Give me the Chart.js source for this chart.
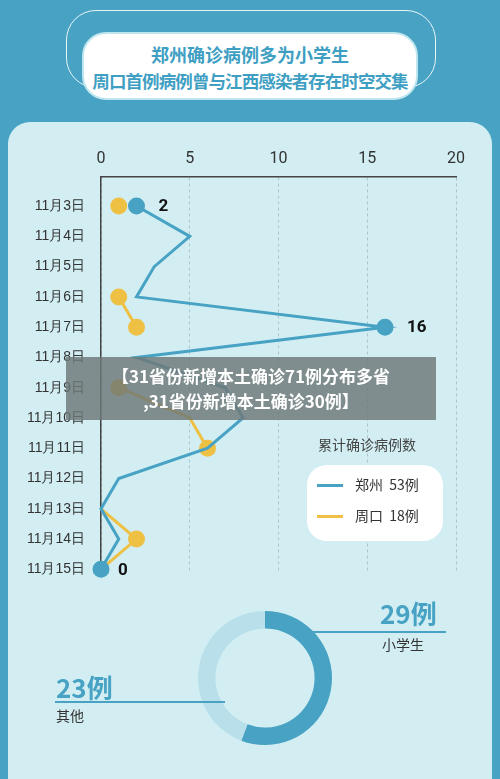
<!DOCTYPE html><html><head><meta charset="utf-8">
<script src="https://cdn.jsdelivr.net/npm/chart.js@4"></script>
<style>
body{margin:0;width:500px;height:779px;background:#47a2c3;position:relative;overflow:hidden;font-family:"Noto Sans CJK SC",sans-serif}
.abs{position:absolute}
</style></head><body>
<div class="abs" style="left:66px;top:10px;width:368px;height:76px;border:1.5px solid #e8f6fa;border-radius:30px"></div>
<div class="abs" style="left:82px;top:32px;width:336px;height:68px;background:#fff;border-radius:24px;border:2px solid #bfe6ef;text-align:center;color:#3f9fc3;font-weight:bold;font-size:18px;line-height:26px;padding-top:7px;box-sizing:border-box;white-space:nowrap">郑州确诊病例多为小学生<br><span style="font-size:17.5px;letter-spacing:-0.9px">周口首例病例曾与江西感染者存在时空交集</span></div>
<div class="abs" style="left:8px;top:122px;width:484px;height:680px;background:#d2eef3;border-radius:22px"></div>
<canvas id="c1" class="abs" width="480" height="450" style="left:0;top:140px;width:480px;height:450px"></canvas>
<div class="abs" style="left:318px;top:434px;font-size:14px;color:#444">累计确诊病例数</div>
<div class="abs" style="left:307px;top:465px;width:136px;height:76px;background:#fff;border-radius:20px;font-size:14px;color:#333">
<div class="abs" style="left:10px;top:19px;width:26px;height:3px;background:#47a2c3"></div><div class="abs" style="left:48px;top:9px">郑州&nbsp; 53例</div>
<div class="abs" style="left:10px;top:50px;width:26px;height:3px;background:#eec043"></div><div class="abs" style="left:48px;top:40px">周口&nbsp; 18例</div>
</div>
<canvas id="c2" class="abs" width="134" height="134" style="left:198px;top:611px;width:134px;height:134px"></canvas>
<div class="abs" style="left:290px;top:631px;width:156px;height:1.5px;background:#47a2c3"></div>
<div class="abs" style="left:380px;top:594px;font-size:26px;font-weight:bold;color:#47a2c3">29例</div>
<div class="abs" style="left:382px;top:634px;font-size:14px;color:#333">小学生</div>
<div class="abs" style="left:55px;top:701px;width:170px;height:1.5px;background:#47a2c3"></div>
<div class="abs" style="left:56px;top:668px;font-size:26px;font-weight:bold;color:#47a2c3">23例</div>
<div class="abs" style="left:56px;top:705px;font-size:14px;color:#333">其他</div>
<div class="abs" style="left:66px;top:357px;width:370px;height:63px;background:rgba(110,120,120,0.82);color:#fff;font-weight:bold;font-size:17px;line-height:25px;text-align:center;padding-top:6px;box-sizing:border-box">【31省份新增本土确诊71例分布多省<br>,31省份新增本土确诊30例】</div>
<script>
const categories=["11月3日","11月4日","11月5日","11月6日","11月7日","11月8日","11月9日","11月10日","11月11日","11月12日","11月13日","11月14日","11月15日"];
const zhengzhou=[2,5,3,2,16,2,7,8,6,1,0,1,0];
const zhoukou=[1,null,null,1,2,null,1,5,6,null,0,2,0];
const zzPoints=[1,0,0,0,1,0,0,0,0,0,0,0,1];
const zkPoints=[1,0,0,1,1,0,1,0,1,0,0,1,0];
const xTicks=[0,5,10,15,20];
const donutLabels=["小学生","其他"];
const donutValues=[29,23];
const labelIdx=[0,4,12];
const BLUE="#47a2c3",YEL="#eec043";
const toXY=a=>a.map((v,i)=>({x:v,y:i}));
const lbl={id:"lbl",afterDatasetsDraw(ch){const m=ch.getDatasetMeta(0),c=ch.ctx;c.save();c.font="bold 17px Roboto";c.fillStyle="#111";c.textBaseline="middle";
labelIdx.forEach(i=>{const p=m.data[i];c.fillText(String(zhengzhou[i]),p.x+(zhengzhou[i]===0?17:22),p.y+1);});c.restore();}};
new Chart(document.getElementById("c1"),{type:"line",
data:{datasets:[
{data:toXY(zhengzhou),borderColor:BLUE,backgroundColor:BLUE,borderWidth:3,pointRadius:zzPoints.map(v=>v?7:0),order:1,clip:false},
{data:toXY(zhoukou),borderColor:YEL,backgroundColor:YEL,borderWidth:3,pointRadius:zkPoints.map(v=>v?7:0),spanGaps:false,order:2,clip:false}]},
options:{indexAxis:"y",responsive:false,animation:false,events:[],devicePixelRatio:1,
layout:{padding:{right:24,bottom:10}},
plugins:{legend:{display:false},tooltip:{enabled:false}},
scales:{x:{type:"linear",position:"top",min:0,max:20,afterFit:s=>{s.height=37},afterBuildTicks:s=>{s.ticks=xTicks.map(v=>({value:v}))},
ticks:{color:"#333",font:{size:16,family:"Roboto"},padding:8},
grid:{color:"#b0c4c8",drawTicks:false},border:{display:true,color:"#444",width:1.5,dash:[3,3]}},
y:{type:"linear",reverse:true,min:-0.96,max:12.14,afterFit:s=>{s.width=101},afterBuildTicks:s=>{s.ticks=categories.map((c,i)=>({value:i}))},
ticks:{color:"#333",font:{size:14},padding:8,autoSkip:false,callback:v=>categories[v]},grid:{display:false},border:{color:"#444",width:1.5}}}},
plugins:[lbl]});
new Chart(document.getElementById("c2"),{type:"doughnut",data:{labels:donutLabels,datasets:[{data:donutValues,backgroundColor:[BLUE,"#b9e0ea"],borderWidth:0}]},
options:{responsive:false,animation:false,events:[],devicePixelRatio:1,cutout:"74%",plugins:{legend:{display:false},tooltip:{enabled:false}}}});
</script></body></html>
